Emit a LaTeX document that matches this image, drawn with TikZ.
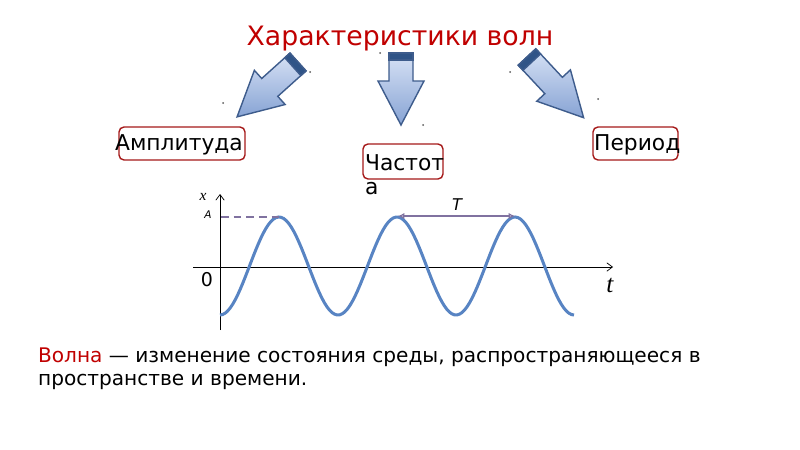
\documentclass[tikz,border=0pt]{standalone}
\usepackage{fontspec}
\setmainfont{DejaVu Sans}
\newfontfamily\timesfont{Liberation Serif}
\usetikzlibrary{arrows.meta}

\definecolor{titlered}{RGB}{192,0,0}
\definecolor{boxred}{RGB}{165,25,25}
\definecolor{arrlight}{RGB}{215,226,245}
\definecolor{arrdark}{RGB}{135,163,212}
\definecolor{arrline}{RGB}{62,92,140}
\definecolor{arrband}{RGB}{48,84,135}
\definecolor{wavecol}{RGB}{88,132,195}
\definecolor{markcol}{RGB}{128,114,160}

\begin{document}
\begin{tikzpicture}[x=0.05cm, y=-0.05cm,
    lbl/.style={inner sep=0pt, font=\fontsize{31}{35.5}\selectfont},
    redbox/.style={draw=boxred, line width=2pt, rounded corners=0.25cm, inner sep=0pt},
    blockarr/.style={draw=arrline, line width=2pt, line join=miter, top color=arrlight, bottom color=arrdark},
    axis/.style={line width=1pt, -{Straight Barb[length=8pt,width=12pt]}},
    wave/.style={wavecol, line width=4.3pt}
]
    \useasboundingbox (0,0) rectangle (800,450);

    % Title
    \node[anchor=base, text=titlered, font=\fontsize{38}{44}\selectfont] (title) at (400,45) {Характеристики волн};

    % Block arrows: tail x / tail y / angle / length
    \foreach \tx/\ty/\ang/\len in {298/62/222/82, 401/53/-90/72, 527/57/-47/83} {
        \begin{scope}[shift={(\tx,\ty)}, rotate=\ang]
            \draw[blockarr] (0,-12) -- (\len-44,-12) -- (\len-44,-23) -- (\len,0)
                -- (\len-44,23) -- (\len-44,12) -- (0,12) -- cycle;
            \fill[arrband] (0,-12) rectangle (7,12);
            \draw[arrline, line width=2pt] (0,-12) rectangle (7,12);
        \end{scope}
    }

    % Stray dots
    \foreach \dx/\dy in {223/103, 310/72, 380/53, 423/125, 510/72, 598/99}
        \fill[black!65] (\dx,\dy) circle (1);

    % Labels and their frames
    \node[redbox, minimum width=6.3cm, minimum height=1.65cm] (ampbox) at (182,143.5) {};
    \node[lbl, anchor=base west] (amp) at (115,150) {Амплитуда};
    \node[redbox, minimum width=4cm, minimum height=1.75cm] (freqbox) at (403,161.5) {};
    \node[lbl, anchor=north west, align=left] (freq) at (365,154) {Частот\\а};
    \node[redbox, minimum width=4.25cm, minimum height=1.65cm] (perbox) at (635.5,143.5) {};
    \node[lbl, anchor=base west] (per) at (594,150) {Период};

    % Graph
    \coordinate (ybot) at (220,330);
    \coordinate (ytop) at (220,194);
    \coordinate (xleft) at (193,267);
    \coordinate (xright) at (613,267);
    \draw[axis] (ybot) -- (ytop);
    \draw[axis] (xleft) -- (xright);
    \draw[wave] plot[domain=220:574, samples=140] (\x,{266+49*cos((\x-220)*3.050847)});

    \coordinate (apeak) at (280,217);
    \coordinate (aaxis) at (221,217);
    \coordinate (peaktwo) at (398,216);
    \coordinate (peakthree) at (515,216);
    \draw[markcol, line width=2.8pt, dash pattern=on 11pt off 7pt] (aaxis) -- (apeak);
    \draw[markcol, line width=3.2pt, {Latex[open,length=9pt,width=9pt]}-{Latex[open,length=9pt,width=9pt]}] (peaktwo) -- (peakthree);

    \node[font=\timesfont\itshape\fontsize{22}{24}\selectfont] (xlbl) at (203,197) {x};
    \node[font=\itshape\fontsize{15}{18}\selectfont] (albl) at (208,215) {A};
    \node[font=\fontsize{27}{30}\selectfont] (zero) at (207,280) {0};
    \node[font=\timesfont\itshape\fontsize{36}{40}\selectfont] (tlbl) at (610,285) {t};
    \node[font=\itshape\fontsize{23}{26}\selectfont] (Tlbl) at (457,205) {T};

    % Definition
    \node[anchor=north west, inner sep=0pt, align=left, font=\fontsize{28.6}{33}\selectfont] (defn) at (38,347.5)
        {\textcolor{titlered}{Волна} — изменение состояния среды, распространяющееся в\\пространстве и времени.};
\end{tikzpicture}
\end{document}
